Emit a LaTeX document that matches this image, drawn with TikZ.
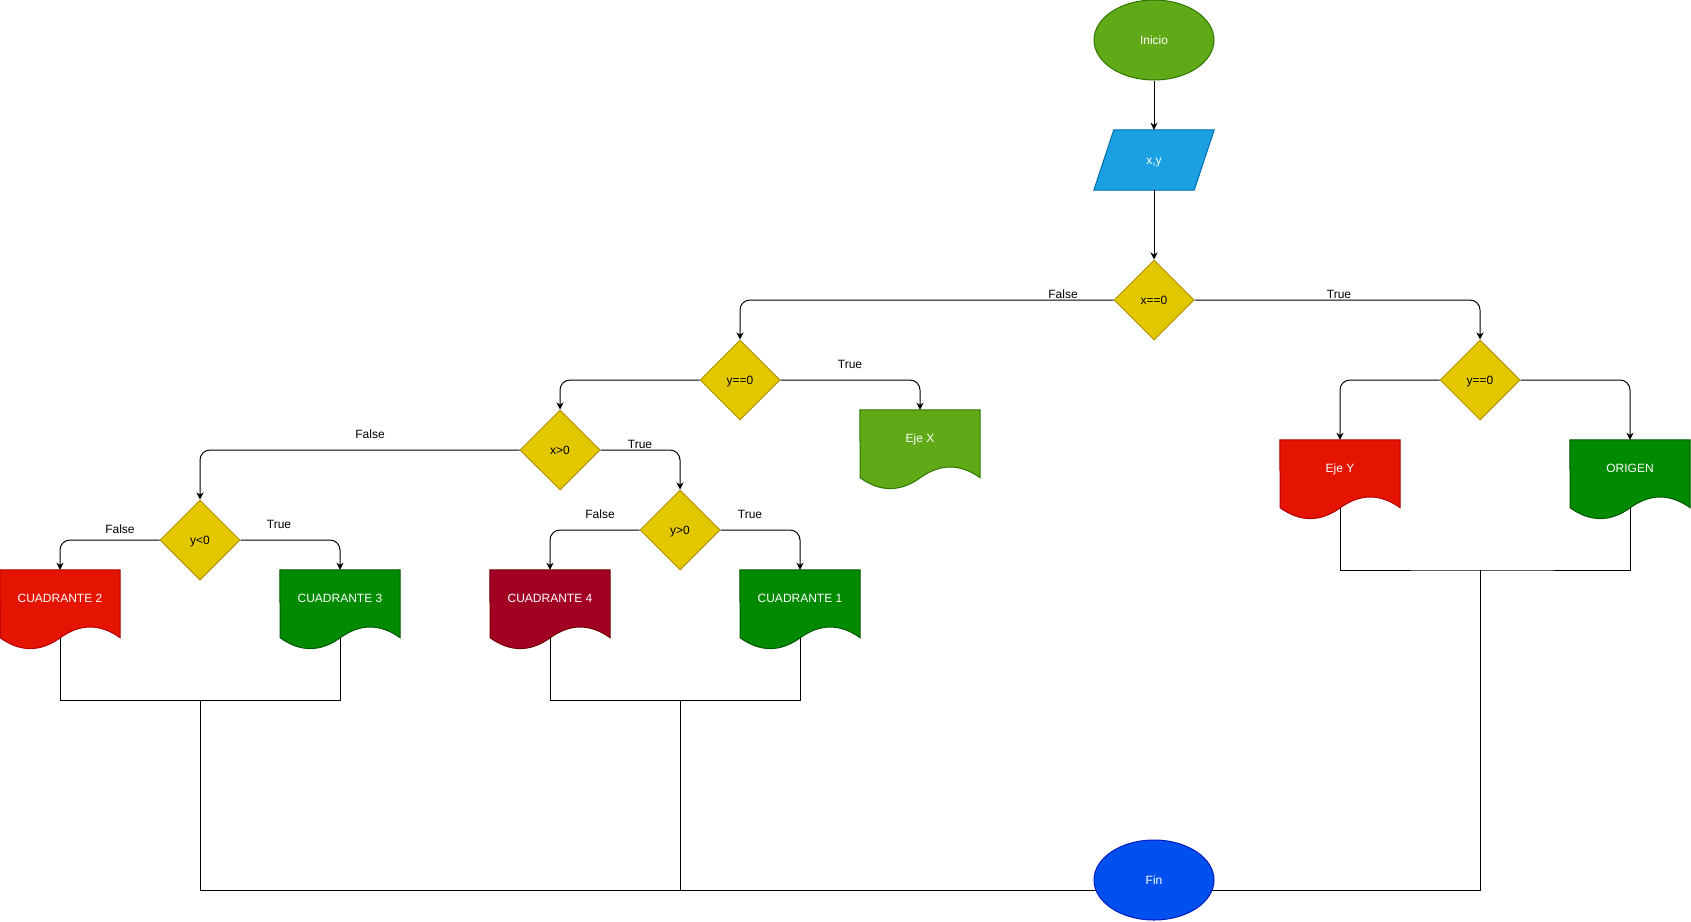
\documentclass[tikz,border=0pt]{standalone}
\usepackage{fontspec}
\setmainfont{Liberation Sans}
\usetikzlibrary{shapes.geometric,arrows.meta}
\pgfdeclarelayer{bg}
\pgfsetlayers{bg,main}
\definecolor{cGreenL}{HTML}{60A917}
\definecolor{sGreenL}{HTML}{2D7600}
\definecolor{cBlueL}{HTML}{1BA1E2}
\definecolor{sBlueL}{HTML}{006EAF}
\definecolor{cYel}{HTML}{E3C800}
\definecolor{sYel}{HTML}{B09500}
\definecolor{cRed}{HTML}{E51400}
\definecolor{sRed}{HTML}{B20000}
\definecolor{cGreen}{HTML}{008A00}
\definecolor{sGreen}{HTML}{005700}
\definecolor{cWine}{HTML}{A20025}
\definecolor{sWine}{HTML}{6F0000}
\definecolor{cBlue}{HTML}{0050EF}
\definecolor{sBlue}{HTML}{001DBC}
\tikzset{
  every node/.style={font=\fontsize{12pt}{14pt}\selectfont},
  txt/.style={text height=10pt, text depth=1.5pt},
  terminal/.style={ellipse, minimum width=120pt, minimum height=80pt, inner sep=0pt, text=white, line width=1pt, txt},
  decision/.style={diamond, aspect=1, minimum width=80pt, minimum height=80pt, inner sep=0pt, fill=cYel, draw=sYel, line width=1pt, text=black, txt},
  docnode/.style={rectangle, minimum width=120pt, minimum height=80pt, inner sep=0pt},
  doctext/.style={anchor=center, yshift=-28pt, text=white, inner sep=0pt, txt},
  ionode/.style={rectangle, minimum width=120pt, minimum height=60pt, inner sep=0pt, text=white, txt},
  arr/.style={-{Stealth[length=7pt,width=7pt,inset=2pt]}, line width=1pt, rounded corners=10pt},
  plain/.style={line width=1pt},
  elabel/.style={text=black, inner sep=0pt, txt}
}
\newcommand\docshape[3]{%
  \begin{pgfonlayer}{bg}
  \draw[draw=#3, fill=#2, line width=1pt] (#1.north west) -- (#1.north east) -- ++(0,68)
    .. controls +(-20,-14.4) and +(20,-14.4) .. ++(-60,0)
    .. controls +(-20,14.4) and +(20,14.4) .. ++(-60,0) -- cycle;
  \end{pgfonlayer}}
\begin{document}
\begin{tikzpicture}[x=1pt,y=-1pt]
\useasboundingbox (0,0) rectangle (1691,921);
% nodes
\node[terminal, fill=cGreenL, draw=sGreenL] (ini) at (1154,40) {Inicio};
\node[ionode] (xy) at (1154,160) {x,y};
\begin{pgfonlayer}{bg}
\draw[fill=cBlueL, draw=sBlueL, line width=1pt] (xy.south west) -- ([xshift=20pt]xy.north west) -- (xy.north east) -- ([xshift=-20pt]xy.south east) -- cycle;
\end{pgfonlayer}
\node[decision] (d0) at (1154,300) {x==0};
\node[decision] (d1) at (740,380) {y==0};
\node[decision] (d2) at (1480,380) {y==0};
\node[decision] (d3) at (560,450) {x>0};
\node[decision] (d4) at (200,540) {y<0};
\node[decision] (d5) at (680,530) {y>0};
\node[docnode, label={[doctext]north:Eje X}] (ejex) at (920,450) {};
\node[docnode, label={[doctext]north:Eje Y}] (ejey) at (1340,480) {};
\node[docnode, label={[doctext]north:ORIGEN}] (origen) at (1630,480) {};
\node[docnode, label={[doctext]north:CUADRANTE 2}] (q2) at (60,610) {};
\node[docnode, label={[doctext]north:CUADRANTE 3}] (q3) at (340,610) {};
\node[docnode, label={[doctext]north:CUADRANTE 4}] (q4) at (550,610) {};
\node[docnode, label={[doctext]north:CUADRANTE 1}] (q1) at (800,610) {};
\docshape{ejex}{cGreenL}{sGreenL}
\docshape{ejey}{cRed}{sRed}
\docshape{origen}{cGreen}{sGreen}
\docshape{q2}{cRed}{sRed}
\docshape{q3}{cGreen}{sGreen}
\docshape{q4}{cWine}{sWine}
\docshape{q1}{cGreen}{sGreen}
\node[terminal, fill=cBlue, draw=sBlue] (fin) at (1154,880) {Fin};
% connectors
\draw[arr] (ini) -- (xy);
\draw[arr] (xy) -- (d0);
\draw[arr] (d0.west) -| (d1.north);
\draw[arr] (d0.east) -| (d2.north);
\draw[arr] (d1.west) -| (d3.north);
\draw[arr] (d1.east) -| (ejex.north);
\draw[arr] (d2.west) -| (ejey.north);
\draw[arr] (d2.east) -| (origen.north);
\draw[arr] (d3.west) -| (d4.north);
\draw[arr] (d3.east) -| (d5.north);
\draw[arr] (d4.west) -| (q2.north);
\draw[arr] (d4.east) -| (q3.north);
\draw[arr] (d5.west) -| (q4.north);
\draw[arr] (d5.east) -| (q1.north);
% labels
\node[elabel] (l1) at (1063,294) {False};
\node[elabel] (l2) at (1339,294) {True};
\node[elabel] (l3) at (850,364) {True};
\node[elabel] (l4) at (370,434) {False};
\node[elabel] (l5) at (640,444) {True};
\node[elabel] (l6) at (120,529) {False};
\node[elabel] (l7) at (279,524) {True};
\node[elabel] (l8) at (600,514) {False};
\node[elabel] (l9) at (750,514) {True};
% merge lines
\coordinate (m1) at (200,700);
\coordinate (m2) at (680,700);
\coordinate (m3) at (1480,570);
\coordinate (j1) at (200,890);
\coordinate (j2) at (1480,890);
\draw[plain] ([yshift=12pt]q2.south) |- (m1) -| ([yshift=12pt]q3.south);
\draw[plain] ([yshift=12pt]q4.south) |- (m2) -| ([yshift=12pt]q1.south);
\draw[plain] ([yshift=12pt]ejey.south) |- (m3) -| ([yshift=12pt]origen.south);
\draw[plain] (m2) -- (m2 |- j1);
\begin{pgfonlayer}{bg}
\draw[plain] (m1) -- (j1) -- (j1 -| fin.center);
\draw[plain] (m3) -- (j2) -- (j2 -| fin.center);
\end{pgfonlayer}
\end{tikzpicture}
\end{document}
